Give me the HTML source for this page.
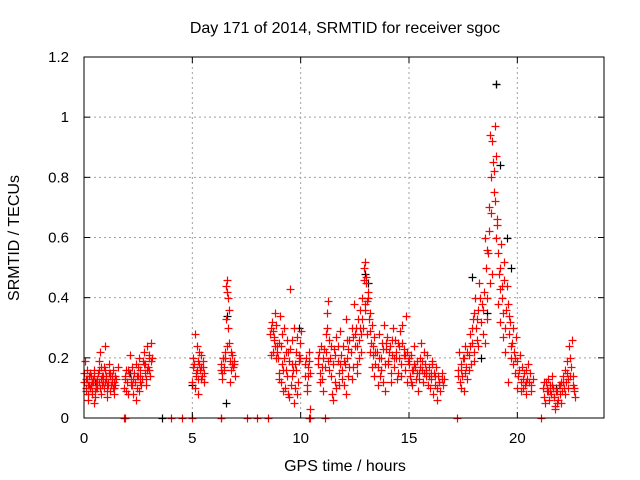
<!DOCTYPE html>
<html><head><meta charset="utf-8"><style>
body{margin:0;background:#fff}
svg{display:block;font-family:"Liberation Sans",sans-serif}
</style></head><body>
<svg id="chart" width="640" height="480">
<rect width="640" height="480" fill="#fff"/>
<g id="grid"></g>
<g id="marks"></g>
<g id="axes"></g>
<text x="345" y="33" text-anchor="middle" font-size="16">Day 171 of 2014, SRMTID for receiver sgoc</text>
<text x="345" y="471" text-anchor="middle" font-size="16">GPS time / hours</text>
<text transform="translate(19,238) rotate(-90)" text-anchor="middle" font-size="16">SRMTID / TECUs</text>
</svg>
<script>
const xTicks=[0,5,10,15,20];
const yTicks=[0,0.2,0.4,0.6,0.8,1,1.2];
const yTickLabels=["0","0.2","0.4","0.6","0.8","1","1.2"];
const redTimes=[
0.00,0.05,0.10,0.15,0.20,0.25,0.30,0.35,0.40,0.45,
0.50,0.55,0.60,0.65,0.70,0.75,0.80,0.85,0.90,0.95,
1.00,1.05,1.10,1.15,1.20,1.25,1.30,1.35,1.40,1.45,
0.02,0.08,0.12,0.18,0.22,0.28,0.32,0.38,0.42,0.48,
0.52,0.58,0.62,0.68,0.72,0.78,0.82,0.88,0.92,0.98,
1.02,1.08,1.12,1.18,1.22,1.28,1.32,1.38,1.48,1.55,
1.85,1.90,1.95,2.00,2.05,2.10,2.15,2.20,2.25,2.30,
2.35,2.40,2.45,2.50,2.55,2.60,2.65,2.70,2.75,2.80,
2.85,2.90,2.95,3.00,3.05,3.10,1.88,2.02,2.18,2.38,
2.52,2.68,2.82,2.98,3.08,2.22,2.60,2.88,3.02,2.45,
5.00,5.05,5.10,5.15,5.20,5.25,5.30,5.35,5.40,5.45,
5.50,5.55,5.02,5.12,5.22,5.32,5.42,5.52,5.28,5.38,
6.30,6.35,6.40,6.45,6.50,6.55,6.60,6.62,6.65,6.70,
6.75,6.80,6.85,6.90,6.95,6.38,6.48,6.58,6.68,6.78,
6.88,6.52,6.72,6.32,6.92,
8.60,8.65,8.70,8.75,8.80,8.85,8.90,8.95,9.00,9.05,
9.10,9.15,9.20,9.25,9.30,9.35,9.40,9.45,9.50,9.55,
9.60,9.65,9.70,9.75,9.80,9.85,9.90,9.95,10.00,8.68,
8.78,8.88,8.98,9.08,9.18,9.28,9.38,9.48,9.58,9.68,
9.78,9.88,9.98,8.62,9.12,9.42,9.62,9.82,
10.20,10.25,10.30,10.35,10.40,10.45,10.28,10.38,10.42,
10.80,10.85,10.90,10.95,11.00,11.05,11.10,11.15,11.20,11.25,
11.30,11.35,11.40,11.45,11.50,11.55,11.60,11.65,11.70,11.75,
11.80,11.85,11.90,11.95,12.00,12.05,12.10,12.15,12.20,12.25,
12.30,12.35,12.40,12.45,10.88,11.02,11.18,11.32,11.48,11.62,
11.78,11.92,12.08,12.22,12.38,11.22,11.72,12.12,
12.50,12.55,12.60,12.65,12.70,12.75,12.80,12.85,12.90,12.95,
13.00,13.05,13.10,13.15,13.20,13.25,13.30,13.35,13.40,13.45,
12.58,12.68,12.78,12.88,12.98,13.08,13.18,13.28,13.38,12.92,
13.50,13.55,13.60,13.65,13.70,13.75,13.80,13.85,13.90,13.95,
14.00,14.05,14.10,14.15,14.20,14.25,14.30,14.35,14.40,14.45,
14.50,14.55,14.60,14.65,14.70,14.75,14.80,14.85,14.90,14.95,
13.58,13.72,13.88,14.02,14.18,14.32,14.48,14.62,14.78,14.92,
15.00,15.05,15.10,15.15,15.20,15.25,15.30,15.35,15.40,15.45,
15.50,15.55,15.60,15.65,15.70,15.75,15.80,15.85,15.90,15.95,
16.00,16.05,16.10,16.15,16.20,16.25,16.30,16.35,16.40,16.45,
16.50,16.55,16.60,15.08,15.28,15.48,15.68,15.88,16.08,16.28,
17.25,17.30,17.35,17.40,17.45,17.50,17.55,17.60,17.65,17.70,
17.75,17.80,17.85,17.90,17.95,18.00,18.05,18.10,18.15,18.20,
18.25,18.30,18.35,18.40,18.45,17.38,17.58,17.78,17.98,18.18,
18.50,18.55,18.60,18.65,18.70,18.75,18.80,18.85,18.90,18.95,
19.00,19.05,19.10,19.15,19.20,19.25,19.30,19.35,19.40,19.45,
18.52,18.62,18.72,18.82,18.92,19.02,19.12,19.22,19.32,19.42,
19.50,19.55,19.60,19.65,19.70,19.75,19.80,19.85,19.90,19.95,
20.00,20.05,20.10,20.15,20.20,20.25,20.30,20.35,20.40,20.45,
19.58,19.78,19.98,20.18,20.38,20.50,20.55,20.60,20.65,20.70,
21.20,21.25,21.30,21.35,21.40,21.45,21.50,21.55,21.60,21.65,
21.70,21.75,21.80,21.85,21.90,21.95,22.00,22.05,22.10,22.15,
22.20,22.25,22.30,22.35,22.40,22.45,22.50,22.55,22.60,22.65,
21.28,21.42,21.58,21.72,21.88,22.02,22.18,22.32,22.48,22.62,
0.07,0.17,0.27,0.37,0.47,0.57,0.67,0.77,0.87,0.97,
1.07,1.17,1.27,1.37,1.43,1.95,2.07,2.27,2.47,2.57,
2.77,2.92,3.12,5.07,5.17,5.27,5.47,6.42,6.56,6.64,
6.82,8.72,8.82,8.92,9.02,9.22,9.32,9.52,9.72,9.92,
10.22,10.32,10.82,10.98,11.08,11.28,11.42,11.58,11.82,12.02,
12.18,12.42,12.52,12.62,12.72,12.82,12.96,13.02,13.12,13.22,
13.32,13.42,13.62,13.78,13.92,14.08,14.22,14.38,14.52,14.68,
14.82,14.98,15.12,15.22,15.38,15.52,15.62,15.78,15.92,16.02,
16.18,16.38,16.52,17.28,17.42,17.52,17.68,17.82,17.92,18.02,
18.12,18.28,18.42,18.58,18.68,18.78,18.88,18.98,19.08,19.18,
19.28,19.38,19.48,19.62,19.72,19.88,20.08,20.28,20.42,20.62,
21.22,21.38,21.52,21.68,21.82,21.98,22.12,22.28,22.42,22.58,
1.85,1.87,4.00,4.50,5.00,6.30,6.32,7.50,8.00,8.50,10.40,10.42,11.10,17.20,21.10
];
const redValues=[
0.15,0.19,0.10,0.13,0.08,0.14,0.11,0.09,0.13,0.16,
0.07,0.12,0.10,0.15,0.19,0.22,0.13,0.11,0.17,0.24,
0.14,0.09,0.12,0.18,0.15,0.11,0.13,0.16,0.10,0.14,
0.12,0.09,0.16,0.06,0.11,0.10,0.14,0.08,0.12,0.05,
0.09,0.11,0.13,0.16,0.10,0.08,0.14,0.12,0.10,0.16,
0.13,0.07,0.11,0.09,0.14,0.12,0.10,0.08,0.13,0.17,
0.10,0.14,0.09,0.12,0.16,0.21,0.13,0.11,0.08,0.15,
0.12,0.18,0.10,0.14,0.20,0.16,0.11,0.19,0.22,0.15,
0.13,0.24,0.17,0.20,0.14,0.25,0.13,0.08,0.11,0.06,
0.09,0.13,0.18,0.16,0.19,0.17,0.12,0.11,0.21,0.14,
0.12,0.20,0.28,0.15,0.24,0.13,0.18,0.16,0.21,0.14,
0.19,0.15,0.17,0.10,0.16,0.22,0.17,0.12,0.08,0.13,
0.18,0.15,0.20,0.17,0.22,0.33,0.46,0.42,0.30,0.25,
0.19,0.16,0.21,0.18,0.14,0.13,0.16,0.24,0.36,0.22,
0.17,0.20,0.12,0.16,0.19,
0.28,0.30,0.22,0.26,0.35,0.31,0.24,0.20,0.15,0.34,
0.12,0.18,0.09,0.30,0.22,0.14,0.08,0.19,0.43,0.11,
0.26,0.16,0.30,0.10,0.22,0.27,0.19,0.25,0.29,0.32,
0.27,0.20,0.13,0.24,0.16,0.10,0.26,0.07,0.14,0.05,
0.16,0.12,0.20,0.21,0.28,0.22,0.18,0.08,
0.14,0.20,0.11,0.17,0.22,0.15,0.09,0.19,0.03,
0.18,0.22,0.15,0.24,0.13,0.20,0.17,0.28,0.35,0.39,
0.26,0.20,0.14,0.08,0.18,0.23,0.12,0.27,0.19,0.15,
0.29,0.21,0.16,0.24,0.11,0.18,0.33,0.20,0.14,0.26,
0.22,0.30,0.17,0.38,0.12,0.09,0.22,0.16,0.06,0.10,
0.11,0.13,0.08,0.17,0.13,0.30,0.24,0.26,
0.24,0.30,0.18,0.33,0.26,0.36,0.28,0.40,0.46,0.52,
0.45,0.39,0.42,0.33,0.29,0.25,0.31,0.21,0.27,0.18,
0.15,0.20,0.22,0.30,0.36,0.28,0.22,0.17,0.14,0.50,
0.22,0.17,0.28,0.14,0.20,0.25,0.12,0.31,0.18,0.23,
0.27,0.19,0.24,0.15,0.21,0.30,0.17,0.26,0.22,0.13,
0.25,0.20,0.29,0.18,0.31,0.23,0.16,0.34,0.22,0.19,
0.11,0.16,0.09,0.18,0.12,0.20,0.15,0.14,0.21,0.12,
0.18,0.14,0.21,0.11,0.16,0.24,0.13,0.19,0.09,0.15,
0.20,0.25,0.16,0.12,0.22,0.18,0.14,0.21,0.17,0.10,
0.13,0.19,0.08,0.15,0.11,0.17,0.06,0.14,0.12,0.09,
0.15,0.11,0.13,0.12,0.17,0.13,0.15,0.11,0.18,0.10,
0.16,0.22,0.12,0.18,0.14,0.20,0.09,0.24,0.17,0.13,
0.21,0.28,0.18,0.25,0.33,0.22,0.40,0.30,0.26,0.36,
0.45,0.32,0.38,0.28,0.42,0.10,0.15,0.16,0.19,0.24,
0.60,0.50,0.40,0.55,0.70,0.94,0.68,0.92,0.75,0.97,
0.87,0.66,0.55,0.48,0.43,0.58,0.40,0.35,0.52,0.30,
0.25,0.33,0.45,0.48,0.82,0.60,0.38,0.32,0.27,0.22,
0.44,0.38,0.28,0.32,0.20,0.25,0.18,0.22,0.15,0.27,
0.19,0.14,0.21,0.12,0.17,0.10,0.15,0.11,0.16,0.13,
0.12,0.30,0.10,0.09,0.08,0.18,0.12,0.15,0.09,0.13,
0.10,0.07,0.12,0.09,0.13,0.06,0.11,0.08,0.14,0.10,
0.07,0.04,0.09,0.05,0.11,0.08,0.12,0.09,0.14,0.10,
0.16,0.12,0.19,0.10,0.24,0.14,0.26,0.11,0.09,0.07,
0.05,0.09,0.11,0.03,0.06,0.05,0.08,0.13,0.17,0.10,
0.13,0.11,0.15,0.12,0.14,0.10,0.12,0.17,0.14,0.12,
0.11,0.15,0.14,0.12,0.11,0.16,0.15,0.13,0.17,0.14,
0.18,0.16,0.20,0.18,0.14,0.19,0.17,0.20,0.44,0.40,
0.18,0.29,0.24,0.22,0.25,0.20,0.16,0.23,0.18,0.21,
0.18,0.14,0.20,0.17,0.23,0.19,0.24,0.21,0.18,0.19,
0.23,0.27,0.28,0.24,0.30,0.33,0.38,0.47,0.40,0.35,
0.24,0.22,0.20,0.23,0.25,0.22,0.26,0.20,0.24,0.25,
0.21,0.20,0.16,0.18,0.15,0.17,0.19,0.16,0.14,0.15,
0.14,0.12,0.13,0.14,0.16,0.20,0.22,0.24,0.30,0.35,
0.33,0.40,0.36,0.56,0.62,0.80,0.85,0.72,0.64,0.50,
0.44,0.46,0.36,0.34,0.24,0.20,0.16,0.13,0.12,0.11,
0.12,0.10,0.09,0.07,0.09,0.11,0.12,0.15,0.20,0.14,
0,0,0,0,0,0,0,0,0,0,0,0,0,0,0
];
const blackTimes=[3.6,5.0,6.55,6.6,9.9,12.95,13.1,17.9,18.6,19.0,19.2,19.5,19.7,18.3,15.8,2.1,0.5,21.8];
const blackValues=[0,0.11,0.05,0.34,0.30,0.48,0.45,0.47,0.35,1.11,0.84,0.60,0.50,0.20,0.15,0.15,0.12,0.10];

const L=84,R=604,T=57,B=418,XMAX=24,YMAX=1.2;
const xs=t=>L+t/XMAX*(R-L);
const ys=v=>B-v/YMAX*(B-T);
const NS='http://www.w3.org/2000/svg';
function mk(tag,attrs,parent){const e=document.createElementNS(NS,tag);for(const k in attrs)e.setAttribute(k,attrs[k]);parent.appendChild(e);return e;}
const grid=document.getElementById('grid'),axes=document.getElementById('axes'),marks=document.getElementById('marks');
xTicks.forEach(t=>{
  if(t>0){const g=mk('line',{x1:xs(t),x2:xs(t),y1:T,y2:B,stroke:'#a0a0a0','stroke-dasharray':'2,3'},grid);
  
  }
  mk('line',{x1:xs(t),x2:xs(t),y1:B,y2:B-6,stroke:'#000'},axes);
  mk('line',{x1:xs(t),x2:xs(t),y1:T,y2:T+6,stroke:'#000'},axes);
  const lb=mk('text',{x:xs(t),y:B+25,'text-anchor':'middle','font-size':'15'},axes);lb.textContent=t;
  
  
});
yTicks.forEach((v,i)=>{
  if(v>0&&v<YMAX){const g=mk('line',{x1:L,x2:R,y1:ys(v),y2:ys(v),stroke:'#a0a0a0','stroke-dasharray':'2,3'},grid);
  
  }
  mk('line',{x1:L,x2:L+6,y1:ys(v),y2:ys(v),stroke:'#000'},axes);
  mk('line',{x1:R,x2:R-6,y1:ys(v),y2:ys(v),stroke:'#000'},axes);
  const lb=mk('text',{x:L-15,y:ys(v)+5,'text-anchor':'end','font-size':'15'},axes);lb.textContent=yTickLabels[i];
  
  
});
const frame=mk('rect',{x:L,y:T,width:R-L,height:B-T,fill:'none',stroke:'#000'},axes);


function cross(t,v,color){
  const x=Math.round(xs(t))+0.5,y=Math.round(ys(v))+0.5;
  return mk('path',{d:`M${x-4} ${y}H${x+4}M${x} ${y-4}V${y+4}`,stroke:color,'stroke-width':1.2,fill:'none'},marks);
}
blackTimes.forEach((t,i)=>{const p=cross(t,blackValues[i],'#000');
  
  });
redTimes.forEach((t,i)=>{const p=cross(t,redValues[i],'#ff0000');
  
  });
blackTimes.forEach((t,i)=>{if(blackValues[i]>1){const p=cross(t,blackValues[i],'#000');
  
  }});
</script>
</body></html>
